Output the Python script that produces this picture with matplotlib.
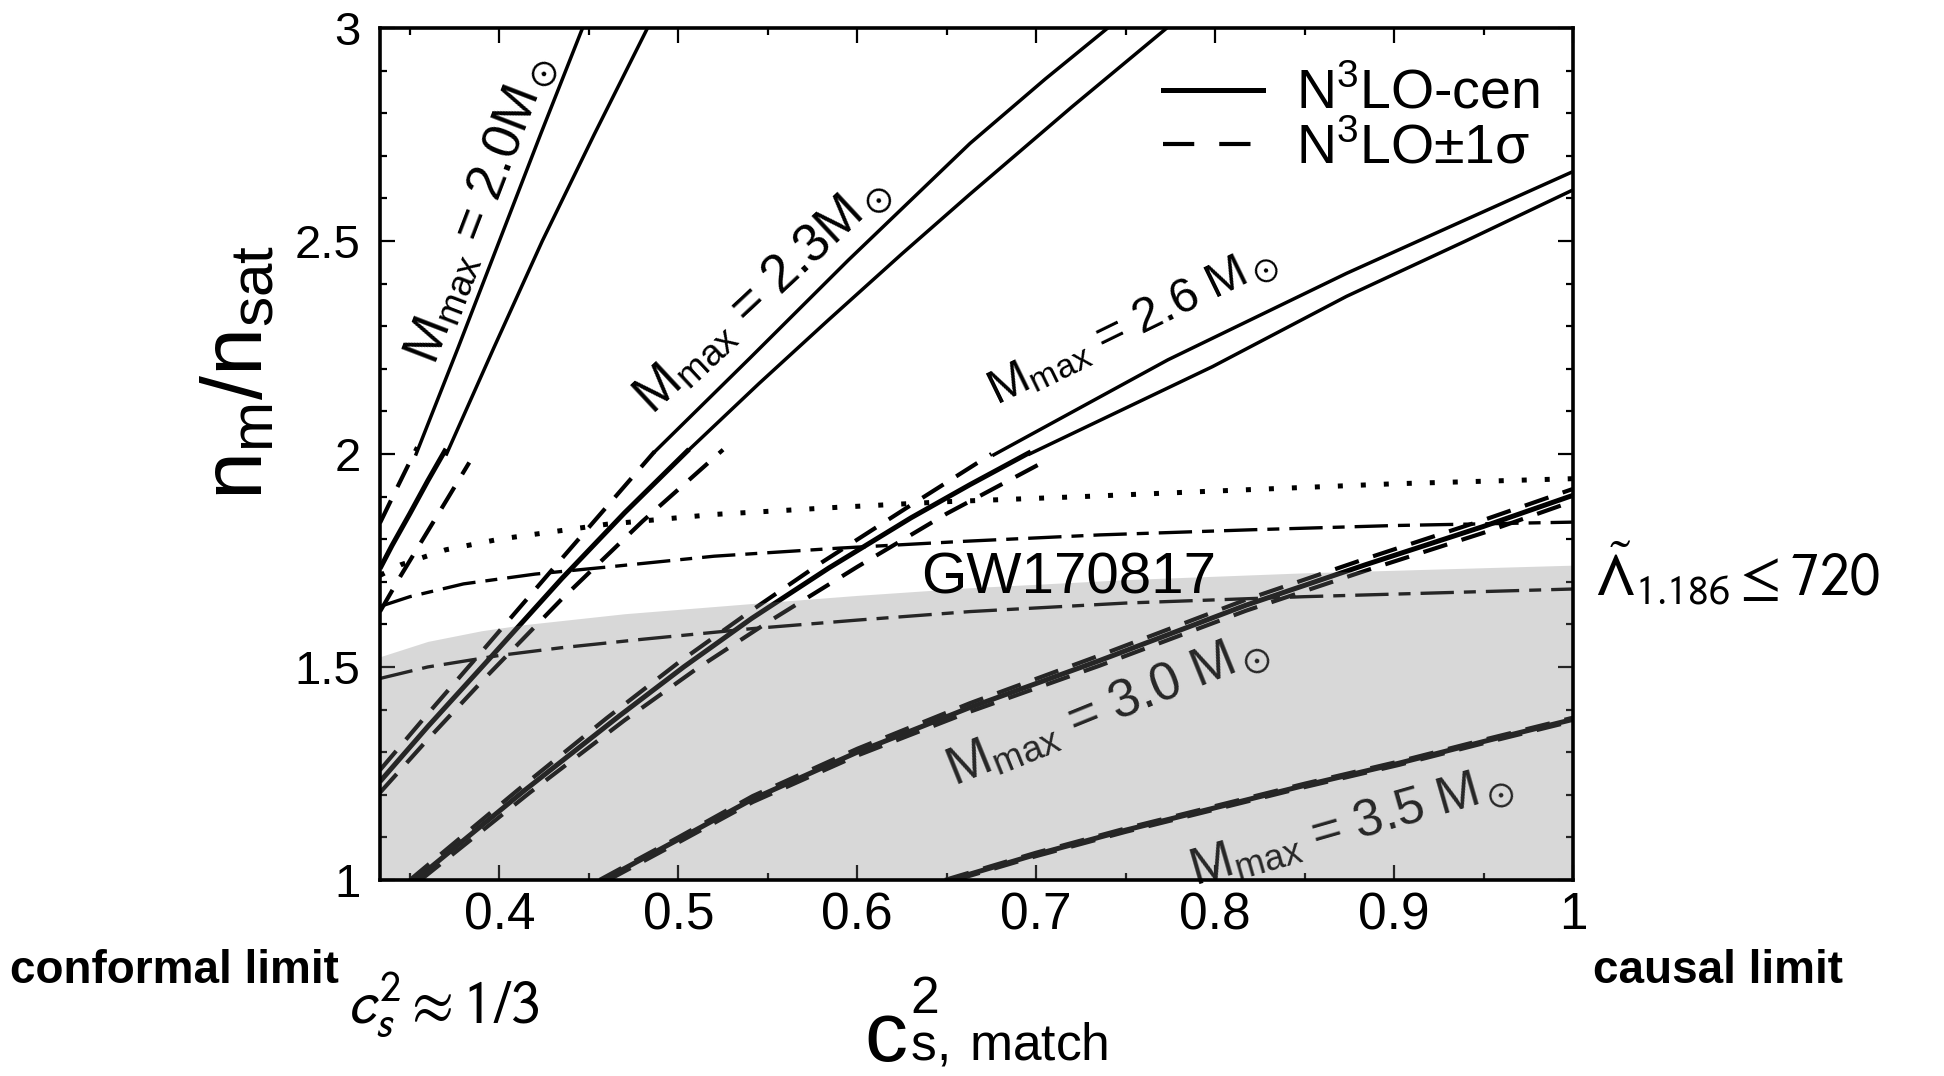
import matplotlib
matplotlib.use('Agg')
import matplotlib.pyplot as plt
from matplotlib import font_manager as fm
from matplotlib.ticker import MultipleLocator, FuncFormatter
from matplotlib.lines import Line2D

names = {f.name for f in fm.fontManager.ttflist}
REG = 'Liberation Sans'
NARROW = 'Liberation Sans Narrow' if 'Liberation Sans Narrow' in names else 'Liberation Sans'

plt.rcParams['font.family'] = [REG, 'DejaVu Sans']
plt.rcParams['mathtext.fontset'] = 'stixsans'

# ---- data (x = c_s^2 match, y = n_m / n_sat) ----
# M_max = 2.0 : N3LO central, +/-1 sigma, and the two thin bounds above 2 n_sat
c20_x = [0.3333, 0.340, 0.350, 0.360, 0.3702]
c20_y = [1.731, 1.785, 1.860, 1.937, 2.012]
u20_x = [0.3333, 0.343, 0.354]
u20_y = [1.838, 1.922, 2.016]
l20_x = [0.3333, 0.345, 0.358, 0.371, 0.3832]
l20_y = [1.630, 1.715, 1.805, 1.895, 1.980]
t20a_x = [0.3535, 0.377, 0.400, 0.423, 0.4465]
t20a_y = [2.000, 2.250, 2.500, 2.750, 3.000]
t20b_x = [0.3705, 0.397, 0.424, 0.453, 0.4828]
t20b_y = [2.000, 2.250, 2.500, 2.750, 3.000]

# M_max = 2.3
c23_x = [0.3333, 0.360, 0.392, 0.435, 0.470, 0.506]
c23_y = [1.231, 1.360, 1.508, 1.708, 1.862, 2.011]
u23_x = [0.3333, 0.360, 0.392, 0.435, 0.4868]
u23_y = [1.258, 1.390, 1.545, 1.755, 2.006]
l23_x = [0.3333, 0.360, 0.392, 0.435, 0.480, 0.525]
l23_y = [1.205, 1.330, 1.474, 1.660, 1.842, 2.010]
t23a_x = [0.487, 0.540, 0.595, 0.663, 0.705, 0.740]
t23a_y = [2.006, 2.225, 2.455, 2.729, 2.880, 3.000]
t23b_x = [0.506, 0.545, 0.584, 0.625, 0.663, 0.720, 0.773]
t23b_y = [2.010, 2.165, 2.315, 2.470, 2.610, 2.815, 3.000]

# M_max = 2.6
c26_x = [0.353, 0.414, 0.467, 0.503, 0.541, 0.584, 0.630, 0.663, 0.697]
c26_y = [1.000, 1.210, 1.385, 1.500, 1.614, 1.732, 1.850, 1.928, 2.005]
u26_x = [0.350, 0.410, 0.460, 0.500, 0.540, 0.580, 0.630, 0.675]
u26_y = [1.000, 1.210, 1.380, 1.510, 1.630, 1.745, 1.880, 2.000]
l26_x = [0.356, 0.417, 0.470, 0.510, 0.550, 0.600, 0.650, 0.708]
l26_y = [1.000, 1.205, 1.375, 1.495, 1.605, 1.735, 1.860, 1.990]
t26a_x = [0.6763, 0.7736, 0.8734, 0.940, 1.000]
t26a_y = [1.998, 2.221, 2.424, 2.550, 2.663]
t26b_x = [0.6963, 0.7985, 0.8734, 0.940, 1.000]
t26b_y = [2.000, 2.205, 2.370, 2.500, 2.620]

# M_max = 3.0
c30_x = [0.458, 0.500, 0.5416, 0.600, 0.663, 0.7354, 0.8172, 0.884, 0.950, 1.000]
c30_y = [1.000, 1.095, 1.190, 1.300, 1.405, 1.515, 1.645, 1.740, 1.830, 1.903]
u30_x = [0.456, 0.500, 0.5416, 0.600, 0.663, 0.7354, 0.8172, 0.884, 0.950, 1.000]
u30_y = [1.000, 1.100, 1.197, 1.308, 1.415, 1.527, 1.658, 1.754, 1.845, 1.918]
l30_x = [0.461, 0.500, 0.5416, 0.600, 0.663, 0.7354, 0.8172, 0.884, 0.950, 1.000]
l30_y = [1.000, 1.088, 1.183, 1.292, 1.395, 1.503, 1.632, 1.726, 1.815, 1.889]

# M_max = 3.5
c35_x = [0.652, 0.700, 0.750, 0.8024, 0.850, 0.9026, 0.950, 1.000]
c35_y = [1.000, 1.060, 1.117, 1.172, 1.222, 1.274, 1.325, 1.377]
u35_x = [0.649, 0.700, 0.750, 0.8024, 0.850, 0.9026, 0.950, 1.000]
u35_y = [1.000, 1.064, 1.121, 1.176, 1.226, 1.278, 1.329, 1.381]
l35_x = [0.655, 0.700, 0.750, 0.8024, 0.850, 0.9026, 0.950, 1.000]
l35_y = [1.000, 1.056, 1.113, 1.168, 1.218, 1.270, 1.321, 1.373]

# GW170817 allowed region (upper edge), dotted and dash-dot curves
gw_x = [0.3333, 0.360, 0.390, 0.4132, 0.470, 0.5413, 0.600, 0.663, 0.750, 0.850, 1.000]
gw_y = [1.524, 1.560, 1.585, 1.599, 1.625, 1.649, 1.668, 1.686, 1.705, 1.721, 1.739]
dot_x = [0.3333, 0.345, 0.370, 0.400, 0.460, 0.520, 0.590, 0.650, 0.726, 0.800, 0.900, 1.000]
dot_y = [1.715, 1.740, 1.775, 1.800, 1.835, 1.858, 1.875, 1.888, 1.900, 1.913, 1.930, 1.942]
ddu_x = [0.3333, 0.350, 0.380, 0.420, 0.4613, 0.520, 0.590, 0.660, 0.7355, 0.820, 0.900, 1.000]
ddu_y = [1.642, 1.665, 1.695, 1.718, 1.735, 1.760, 1.779, 1.795, 1.810, 1.822, 1.832, 1.840]
ddl_x = [0.3333, 0.360, 0.400, 0.4343, 0.480, 0.5413, 0.600, 0.663, 0.750, 0.850, 1.000]
ddl_y = [1.473, 1.500, 1.527, 1.545, 1.565, 1.590, 1.610, 1.630, 1.650, 1.665, 1.683]

LW_C, LW_D, LW_T = 3.6, 3.0, 2.5
DASH = (6, 3.6)

fig = plt.figure(figsize=(19.44, 10.76), dpi=100)
ax = fig.add_axes([0.1955, 0.1822, 0.6137, 0.7918])

bands = [
    (c20_x, c20_y, u20_x, u20_y, l20_x, l20_y),
    (c23_x, c23_y, u23_x, u23_y, l23_x, l23_y),
    (c26_x, c26_y, u26_x, u26_y, l26_x, l26_y),
    (c30_x, c30_y, u30_x, u30_y, l30_x, l30_y),
    (c35_x, c35_y, u35_x, u35_y, l35_x, l35_y),
]
for cx, cy, ux, uy, lx, ly in bands:
    ax.plot(cx, cy, color='k', lw=LW_C, solid_capstyle='butt', zorder=2)
    ax.plot(ux, uy, color='k', lw=LW_D, dashes=DASH, zorder=2)
    ax.plot(lx, ly, color='k', lw=LW_D, dashes=DASH, zorder=2)

for tx, ty in [(t20a_x, t20a_y), (t20b_x, t20b_y), (t23a_x, t23a_y),
               (t23b_x, t23b_y), (t26a_x, t26a_y), (t26b_x, t26b_y)]:
    ax.plot(tx, ty, color='k', lw=LW_T, zorder=2)

ax.plot(dot_x, dot_y, color='k', lw=3.6, dashes=(1, 3.6), dash_capstyle='butt', zorder=2)
ax.plot(ddu_x, ddu_y, color='k', lw=2.4, dashes=(10, 3, 3.6, 3), zorder=2)
ax.plot(ddl_x, ddl_y, color='k', lw=2.4, dashes=(10, 3, 3.6, 3), zorder=2)

ax.fill_between(gw_x, 1.0, gw_y, color='0.5', alpha=0.3, lw=0, zorder=2.4)

ax.set_xlim(1 / 3, 1)
ax.set_ylim(1, 3)
ax.xaxis.set_major_locator(MultipleLocator(0.1))
ax.xaxis.set_minor_locator(MultipleLocator(0.05))
ax.yaxis.set_major_locator(MultipleLocator(0.5))
ax.yaxis.set_minor_locator(MultipleLocator(0.1))
ax.xaxis.set_major_formatter(FuncFormatter(lambda v, p: '%g' % round(v, 2)))
ax.yaxis.set_major_formatter(FuncFormatter(lambda v, p: '%g' % round(v, 2)))
ax.tick_params(which='both', direction='in', top=True, right=True, width=1.6)
ax.tick_params(which='major', length=11)
ax.tick_params(which='minor', length=5)
ax.tick_params(axis='y', labelsize=34, pad=14)
ax.tick_params(axis='x', labelsize=37, pad=8)
for lab in ax.get_xticklabels():
    lab.set_family(NARROW)
for s in ax.spines.values():
    s.set_linewidth(2.6)

# legend
h_cen = Line2D([], [], color='k', lw=LW_C)
h_sig = Line2D([], [], color='k', lw=LW_D, dashes=(7.5, 6))
ax.legend([h_cen, h_sig], [r'N$^\mathregular{3}$LO-cen', r'N$^\mathregular{3}$LO±1σ'],
          loc='upper right', bbox_to_anchor=(0.972, 0.952), frameon=False,
          fontsize=40, handlelength=1.8, handletextpad=0.6, labelspacing=0.05,
          borderpad=0, borderaxespad=0)

# curve labels
ax.text(0.390, 2.575, r'M$_\mathregular{max}$ = 2.0M$_\odot$', fontsize=38,
        rotation=69, ha='center', va='center', rotation_mode='anchor')
ax.text(0.547, 2.375, r'M$_\mathregular{max}$ = 2.3M$_\odot$', fontsize=38,
        rotation=43, ha='center', va='center', rotation_mode='anchor')
ax.text(0.754, 2.30, r'M$_\mathregular{max}$ = 2.6 M$_\odot$', fontsize=35,
        rotation=26, ha='center', va='center', rotation_mode='anchor')
ax.text(0.740, 1.40, r'M$_\mathregular{max}$ = 3.0 M$_\odot$', fontsize=38, family=NARROW,
        rotation=22, ha='center', va='center', rotation_mode='anchor', zorder=2)
ax.text(0.876, 1.125, r'M$_\mathregular{max}$ = 3.5 M$_\odot$', fontsize=37, family=NARROW,
        rotation=16, ha='center', va='center', rotation_mode='anchor', zorder=2)
ax.text(0.718, 1.708, 'GW170817', fontsize=42, family=NARROW, ha='center', va='center')
ax.text(1.012, 1.717, r'$\tilde{\Lambda}_{1.186} \leq 720$', fontsize=43,
        ha='left', va='center')

# axis titles and side notes
fig.text(0.1235, 0.654, r'n$_\mathregular{m}$/n$_\mathregular{sat}$', fontsize=62,
         rotation=90, ha='center', va='center')
# x-axis title: large c, then stacked super/subscript as one math text
fig.text(0.4444, 0.014, 'c', fontsize=62, family=NARROW, ha='left', va='baseline')
fig.text(0.4680, 0.030, r'$^{\mathregular{2}}_{\mathregular{s,}\;\mathregular{match}}$',
         fontsize=53, family=NARROW, ha='left', va='baseline')

fig.text(0.005, 0.0976, 'conformal limit', fontsize=33, fontweight='bold',
         family=NARROW, ha='left', va='center')
fig.text(0.8195, 0.0976, 'causal limit', fontsize=33, fontweight='bold',
         family=NARROW, ha='left', va='center')
fig.text(0.1785, 0.066, r'$c_s^2 \approx 1/3$', fontsize=44, ha='left', va='center')

fig.savefig('out.png', dpi=100)
